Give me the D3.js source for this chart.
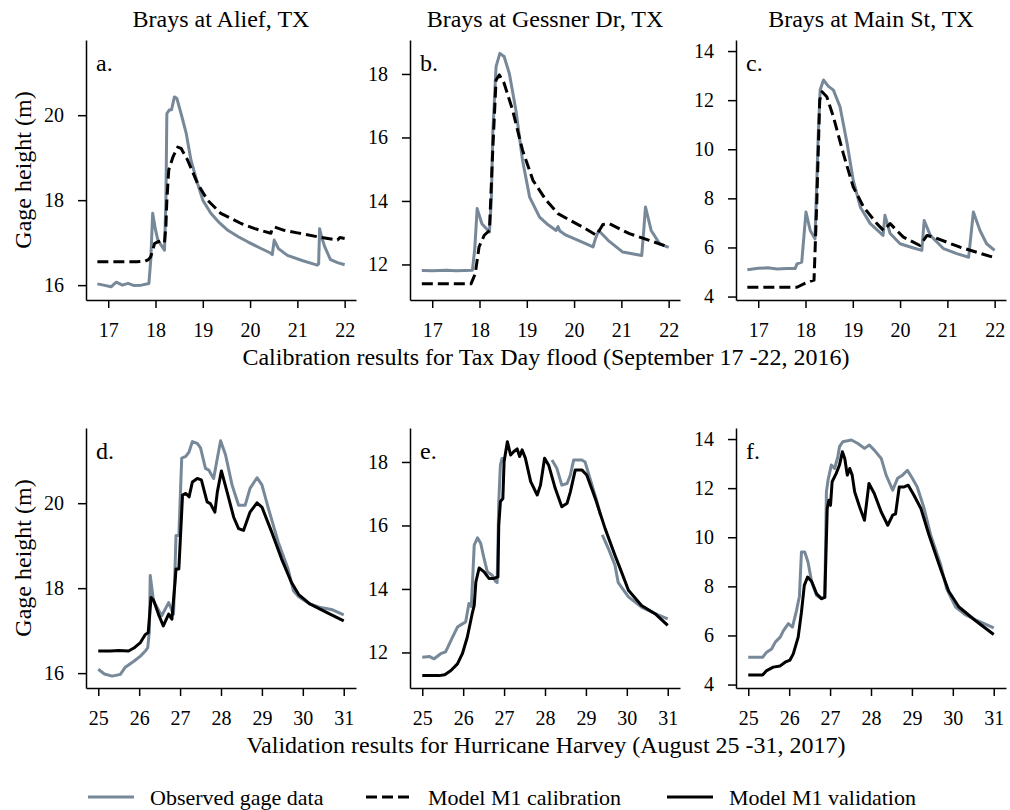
<!DOCTYPE html>
<html>
<head>
<meta charset="utf-8">
<script src="https://cdn.jsdelivr.net/npm/d3@7"></script>
<style>
	html, body { margin: 0; padding: 0; background: #fff; }
	svg { display: block; font-family: 'Liberation Serif', 'Times New Roman', serif; }
	.axis path, .axis line { stroke: #000; stroke-width: 1.5; }
	.axis text { font-size: 20px; fill: #000; font-family: 'Liberation Serif', 'Times New Roman', serif; }
</style>
</head>
<body>
<svg id="chart" width="1010" height="810"></svg>
<script>
'use strict';

// station names (column titles) and panel letters
var stations = ['Brays at Alief, TX', 'Brays at Gessner Dr, TX', 'Brays at Main St, TX'];
var panelLetters = [['a.', 'b.', 'c.'], ['d.', 'e.', 'f.']];
var rowLabels = [
	'Calibration results for Tax Day flood (September 17 -22, 2016)',
	'Validation results for Hurricane Harvey (August 25 -31, 2017)'
];
var legendLabels = ['Observed gage data', 'Model M1 calibration', 'Model M1 validation'];

// ticks
var calDayTicks = [17, 18, 19, 20, 21, 22];
var valDayTicks = [25, 26, 27, 28, 29, 30, 31];
var aliefTicks = [16, 18, 20];
var gessnerTicks = [12, 14, 16, 18];
var mainTicks = [4, 6, 8, 10, 12, 14];

// axis limits
var calDayLimits = [16.53, 22.24];
var valDayLimits = [24.7, 31.3];
var aliefLimits = [15.65, 21.77];
var gessnerLimits = [10.88, 19.07];
var mainLimits = [3.86, 14.45];

// Tax Day flood, Sept 2016 : [day, gage height m]
var aliefCalObs = [[16.77,16.03],[16.9,16.0],[17.06,15.96],[17.17,16.07],[17.3,16.0],[17.42,16.04],[17.55,15.99],[17.7,16.0],[17.86,16.04],[17.9,16.6],[17.94,17.69],[18.0,17.3],[18.05,17.06],[18.19,16.82],[18.22,18.0],[18.24,20.04],[18.29,20.12],[18.34,20.13],[18.40,20.43],[18.45,20.4],[18.54,20.04],[18.65,19.57],[18.75,18.94],[18.89,18.39],[19.0,18.0],[19.17,17.69],[19.35,17.47],[19.53,17.29],[19.75,17.14],[19.95,17.02],[20.2,16.88],[20.44,16.75],[20.47,16.72],[20.51,17.06],[20.6,16.86],[20.79,16.7],[21.1,16.58],[21.42,16.47],[21.45,16.5],[21.47,17.33],[21.52,17.1],[21.58,16.9],[21.7,16.6],[21.85,16.53],[22.0,16.48]];
var aliefCalModel = [[16.77,16.55],[17.0,16.55],[17.3,16.55],[17.6,16.55],[17.77,16.56],[17.85,16.6],[17.9,16.67],[17.98,16.98],[18.05,17.02],[18.12,17.04],[18.19,17.0],[18.22,17.4],[18.24,18.0],[18.28,18.71],[18.37,19.02],[18.47,19.25],[18.54,19.22],[18.68,18.94],[18.89,18.39],[19.10,18.0],[19.38,17.69],[19.81,17.45],[20.1,17.33],[20.44,17.22],[20.46,17.3],[20.51,17.37],[20.72,17.29],[21.0,17.23],[21.42,17.14],[21.85,17.06],[21.9,17.12],[22.0,17.1]];
var gessnerCalObs = [[16.78,11.81],[17.0,11.8],[17.3,11.82],[17.5,11.8],[17.7,11.81],[17.85,11.82],[17.9,12.5],[17.95,13.76],[18.05,13.28],[18.21,13.02],[18.25,14.0],[18.28,16.13],[18.35,18.23],[18.43,18.65],[18.52,18.55],[18.63,18.02],[18.77,16.86],[18.91,15.28],[19.06,14.12],[19.27,13.49],[19.45,13.25],[19.62,13.07],[19.66,13.19],[19.7,13.05],[19.83,12.92],[20.1,12.75],[20.40,12.55],[20.45,12.8],[20.52,13.07],[20.72,12.76],[21.03,12.39],[21.43,12.28],[21.47,13.0],[21.51,13.81],[21.63,13.07],[21.81,12.65],[22.0,12.54]];
var gessnerCalModel = [[16.78,11.39],[17.2,11.39],[17.6,11.39],[17.82,11.39],[17.91,11.71],[17.99,12.55],[18.10,12.92],[18.21,13.07],[18.28,15.6],[18.35,17.81],[18.42,17.97],[18.52,17.71],[18.70,16.86],[18.91,15.6],[19.13,14.65],[19.41,14.02],[19.66,13.6],[19.9,13.4],[20.18,13.18],[20.47,12.92],[20.61,13.26],[20.75,13.28],[21.17,12.97],[21.59,12.76],[22.0,12.55]];
var mainCalObs = [[16.77,5.09],[17.0,5.15],[17.2,5.17],[17.4,5.12],[17.6,5.14],[17.78,5.14],[17.82,5.33],[17.92,5.4],[18.01,7.44],[18.1,6.69],[18.2,6.35],[18.27,10.64],[18.31,12.41],[18.38,12.82],[18.48,12.57],[18.59,12.41],[18.73,11.73],[18.88,10.23],[19.01,8.73],[19.16,7.64],[19.37,6.97],[19.64,6.49],[19.68,7.31],[19.79,6.57],[20.0,6.15],[20.25,6.0],[20.46,5.88],[20.51,7.1],[20.64,6.49],[20.92,5.95],[21.2,5.75],[21.45,5.6],[21.55,7.44],[21.69,6.69],[21.83,6.15],[22.0,5.88]];
var mainCalModel = [[16.77,4.38],[17.2,4.38],[17.6,4.38],[17.82,4.38],[18.03,4.58],[18.18,4.67],[18.24,7.92],[18.3,12.0],[18.35,12.34],[18.45,12.14],[18.59,11.32],[18.8,9.82],[19.01,8.46],[19.23,7.64],[19.51,6.97],[19.65,6.69],[19.79,6.97],[20.07,6.42],[20.42,6.08],[20.57,6.49],[20.71,6.42],[21.27,6.01],[21.97,5.6]];

// Hurricane Harvey, Aug 2017 : [day, gage height m], null = no record
var aliefValObs = [[25.0,16.09],[25.15,15.98],[25.34,15.93],[25.54,15.97],[25.66,16.14],[25.87,16.28],[26.03,16.4],[26.15,16.52],[26.21,16.6],[26.25,17.0],[26.27,18.3],[26.35,17.7],[26.55,17.35],[26.72,17.66],[26.84,17.39],[26.88,18.58],[26.9,19.24],[26.97,19.24],[27.04,21.06],[27.14,21.1],[27.22,21.21],[27.30,21.45],[27.42,21.41],[27.50,21.3],[27.62,20.82],[27.70,20.78],[27.82,20.58],[27.88,20.9],[27.99,21.47],[28.11,21.14],[28.27,20.43],[28.43,19.95],[28.59,19.95],[28.71,20.35],[28.88,20.6],[29.0,20.43],[29.16,19.87],[29.40,19.08],[29.64,18.45],[29.77,17.94],[29.9,17.8],[30.17,17.63],[30.4,17.55],[30.7,17.5],[31.0,17.37]];
var aliefValModel = [[25.0,16.52],[25.3,16.52],[25.5,16.53],[25.74,16.52],[25.87,16.59],[26.03,16.72],[26.15,16.91],[26.22,16.95],[26.29,17.78],[26.35,17.72],[26.47,17.39],[26.59,17.11],[26.72,17.39],[26.80,17.27],[26.88,18.18],[26.9,18.45],[26.97,18.45],[27.06,20.19],[27.14,20.23],[27.22,20.15],[27.30,20.5],[27.42,20.58],[27.52,20.55],[27.66,20.03],[27.74,19.99],[27.85,19.79],[27.91,20.26],[28.01,20.76],[28.15,20.26],[28.31,19.67],[28.43,19.4],[28.55,19.36],[28.71,19.79],[28.88,20.01],[29.0,19.91],[29.24,19.32],[29.48,18.69],[29.72,18.14],[29.9,17.85],[30.17,17.63],[30.58,17.43],[31.0,17.23]];
var gessnerValObs = [[25.0,11.85],[25.18,11.87],[25.29,11.8],[25.45,11.96],[25.57,12.02],[25.74,12.48],[25.86,12.8],[25.98,12.9],[26.06,12.96],[26.14,13.54],[26.2,13.45],[26.27,15.38],[26.35,15.61],[26.43,15.43],[26.51,14.96],[26.59,14.54],[26.71,14.43],[26.79,14.24],[26.83,14.2],[26.87,16.75],[26.91,17.9],[26.95,18.11],[27.0,18.1],[27.5,null],[28.17,18.06],[28.29,17.8],[28.41,17.27],[28.54,17.32],[28.62,17.59],[28.70,18.06],[28.9,18.06],[28.98,18.0],[29.10,17.48],[29.27,16.75],[29.36,16.3],[29.38,null],[29.40,15.7],[29.55,15.27],[29.71,14.75],[29.79,14.2],[30.04,13.75],[30.36,13.43],[30.69,13.22],[31.0,13.06]];
var gessnerValModel = [[25.0,11.27],[25.41,11.27],[25.55,11.3],[25.70,11.43],[25.86,11.64],[25.98,11.96],[26.10,12.48],[26.22,13.22],[26.27,13.48],[26.31,14.22],[26.39,14.66],[26.51,14.54],[26.63,14.33],[26.75,14.33],[26.85,14.38],[26.87,16.01],[26.91,16.75],[26.97,16.85],[27.0,18.01],[27.08,18.64],[27.16,18.22],[27.24,18.33],[27.32,18.41],[27.38,18.17],[27.44,18.38],[27.52,18.12],[27.65,17.38],[27.81,16.96],[27.89,17.27],[27.99,18.12],[28.09,17.9],[28.25,17.17],[28.41,16.59],[28.54,16.7],[28.62,17.06],[28.74,17.75],[28.90,17.75],[29.02,17.59],[29.23,16.85],[29.47,15.9],[29.71,15.06],[29.85,14.6],[30.04,13.96],[30.36,13.48],[30.69,13.22],[31.0,12.85]];
var mainValObs = [[25.0,5.11],[25.35,5.11],[25.45,5.32],[25.57,5.45],[25.66,5.73],[25.78,5.93],[25.86,6.2],[25.98,6.48],[26.08,6.34],[26.18,7.02],[26.25,7.6],[26.30,9.4],[26.38,9.4],[26.46,8.99],[26.55,8.18],[26.67,7.63],[26.79,7.5],[26.87,7.55],[26.91,11.85],[26.95,12.33],[27.03,12.94],[27.11,12.8],[27.19,13.28],[27.23,13.69],[27.31,13.89],[27.52,13.96],[27.68,13.82],[27.84,13.62],[27.96,13.76],[28.08,13.55],[28.25,13.21],[28.37,12.53],[28.53,11.92],[28.65,12.4],[28.77,12.53],[28.89,12.73],[29.01,12.4],[29.13,12.05],[29.30,11.17],[29.46,10.08],[29.70,8.9],[29.85,7.9],[30.07,7.16],[30.3,6.85],[30.6,6.6],[31.0,6.31]];
var mainValModel = [[25.0,4.39],[25.35,4.39],[25.45,4.57],[25.61,4.71],[25.78,4.76],[25.90,4.91],[26.02,5.0],[26.10,5.25],[26.22,5.93],[26.30,6.95],[26.37,8.04],[26.45,8.38],[26.55,8.2],[26.67,7.7],[26.79,7.5],[26.87,7.55],[26.93,11.17],[26.97,11.51],[27.01,11.3],[27.05,12.26],[27.15,12.6],[27.23,12.94],[27.30,13.48],[27.36,13.2],[27.42,12.53],[27.48,12.8],[27.54,12.53],[27.60,11.85],[27.72,11.24],[27.84,10.69],[27.95,12.19],[28.08,11.78],[28.25,11.03],[28.41,10.49],[28.53,10.9],[28.6,10.95],[28.69,12.05],[28.81,12.05],[28.91,12.12],[29.05,11.71],[29.22,11.17],[29.42,10.08],[29.70,8.72],[29.9,7.8],[30.15,7.16],[30.55,6.61],[31.0,6.04]];

(function() {

	var obsColor = '#778899';
	var font = "'Liberation Serif', 'Times New Roman', serif";
	var colX = [86, 410, 736];
	var rowY = [40, 428];
	var panelW = 270;
	var panelH = 260;

	var yLimits = [aliefLimits, gessnerLimits, mainLimits];
	var yTicks = [aliefTicks, gessnerTicks, mainTicks];
	var rows = [
		{ dayLimits: calDayLimits, dayTicks: calDayTicks, obs: [aliefCalObs, gessnerCalObs, mainCalObs], model: [aliefCalModel, gessnerCalModel, mainCalModel], dashed: true },
		{ dayLimits: valDayLimits, dayTicks: valDayTicks, obs: [aliefValObs, gessnerValObs, mainValObs], model: [aliefValModel, gessnerValModel, mainValModel], dashed: false }
	];

	var svg = d3.select('#chart');

	rows.forEach(function(row, r) {
		for (var c = 0; c < 3; c++) {
			var g = svg.append('g')
				.attr('transform', 'translate(' + colX[c] + ',' + rowY[r] + ')');

			var x = d3.scaleLinear().domain(row.dayLimits).range([0, panelW]);
			var y = d3.scaleLinear().domain(yLimits[c]).range([panelH, 0]);

			var line = d3.line()
				.defined(function(d) { return d[1] !== null; })
				.x(function(d) { return x(d[0]); })
				.y(function(d) { return y(d[1]); });

			g.append('path')
				.datum(row.obs[c])
				.attr('d', line)
				.attr('fill', 'none')
				.attr('stroke', obsColor)
				.attr('stroke-width', 3)
				.attr('stroke-linejoin', 'round');

			g.append('path')
				.datum(row.model[c])
				.attr('d', line)
				.attr('fill', 'none')
				.attr('stroke', '#000')
				.attr('stroke-width', 3)
				.attr('stroke-linejoin', 'round')
				.attr('stroke-dasharray', row.dashed ? '11,5' : null);

			g.append('g')
				.attr('class', 'axis')
				.attr('transform', 'translate(0,' + panelH + ')')
				.call(d3.axisBottom(x).tickValues(row.dayTicks).tickSize(8).tickSizeOuter(0).tickPadding(15).tickFormat(d3.format('d')))
				.attr('font-family', font)
				.attr('font-size', 20);

			g.append('g')
				.attr('class', 'axis')
				.call(d3.axisLeft(y).tickValues(yTicks[c]).tickSize(8).tickSizeOuter(0).tickPadding(14).tickFormat(d3.format('d')))
				.attr('font-family', font)
				.attr('font-size', 20);

			g.append('text')
				.attr('x', 10)
				.attr('y', 31)
				.attr('font-size', 24)
				.attr('font-family', font)
				.text(panelLetters[r][c]);

			if (r === 0) {
				g.append('text')
					.attr('x', panelW / 2)
					.attr('y', -13)
					.attr('text-anchor', 'middle')
					.attr('font-size', 24)
					.attr('font-family', font)
					.text(stations[c]);
			}
			if (c === 0) {
				g.append('text')
					.attr('transform', 'translate(-55,' + panelH / 2 + ') rotate(-90)')
					.attr('text-anchor', 'middle')
					.attr('font-size', 24)
					.attr('font-family', font)
					.text('Gage height (m)');
			}
		}

		svg.append('text')
			.attr('x', 546)
			.attr('y', rowY[r] + panelH + 65)
			.attr('text-anchor', 'middle')
			.attr('font-size', 24)
			.attr('font-family', font)
			.text(rowLabels[r]);
	});

	// legend
	var legendX = [88, 366, 667];
	var legendStyles = [
		{ color: obsColor, dash: null },
		{ color: '#000', dash: '11,5' },
		{ color: '#000', dash: null }
	];
	var legend = svg.append('g').attr('transform', 'translate(0,797)');
	legendLabels.forEach(function(label, i) {
		legend.append('line')
			.attr('x1', legendX[i])
			.attr('x2', legendX[i] + 46)
			.attr('stroke', legendStyles[i].color)
			.attr('stroke-width', 3)
			.attr('stroke-dasharray', legendStyles[i].dash);
		legend.append('text')
			.attr('x', legendX[i] + 62)
			.attr('y', 8)
			.attr('font-size', 22)
			.attr('font-family', font)
			.text(label);
	});
})();
</script>
</body>
</html>
